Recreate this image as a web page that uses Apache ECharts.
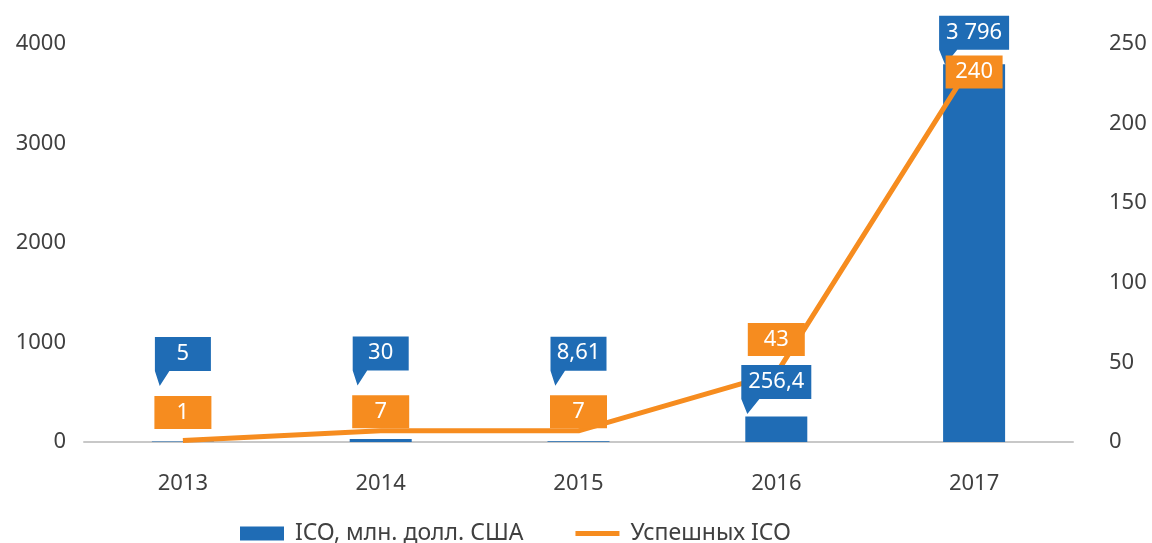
<!DOCTYPE html>
<html lang="ru">
<head>
<meta charset="UTF-8">
<title>ICO</title>
<script src="https://cdn.jsdelivr.net/npm/echarts@6/dist/echarts.min.js"></script>
<style>
    html, body { margin: 0; padding: 0; width: 100%; height: 100%; background: #fff; }
    #chart { width: 1152px; height: 543px; }
</style>
</head>
<body>
<div id="chart"></div>
<script>
    var years = ['2013', '2014', '2015', '2016', '2017'];
    var icoValues = [5, 30, 8.61, 256.4, 3796];      // млн. долл. США
    var successValues = [1, 7, 7, 43, 240];          // успешных ICO
    var leftTicks = { min: 0, max: 4000, interval: 1000 };
    var rightTicks = { min: 0, max: 250, interval: 50 };

    // how far (px) each callout sits from its point, placed by hand in the original
    var blueLift = [-80, -78, -80, -27, -24];
    var orangeLift = [-28, -19, -19, -34, 12];

    var BLUE = '#1f6cb5';
    var ORANGE = '#f68c1f';
    var FONT = 'Noto Sans';

    function fmt(v) {
        var parts = String(v).split('.');
        parts[0] = parts[0].replace(/\B(?=(\d{3})+(?!\d))/g, ' ');
        return parts.join(',');
    }

    var chart = echarts.init(document.getElementById('chart'));

    var blueCallouts = icoValues.map(function (v, i) {
        var w = 14 * Math.max(fmt(v).length, 4);
        return { value: v, symbolSize: [w, 49], symbolOffset: [0, blueLift[i]] };
    });
    var orangeCallouts = successValues.map(function (v, i) {
        return { value: v, symbolOffset: [0, orangeLift[i]] };
    });

    chart.setOption({
        animation: false,
        textStyle: { fontFamily: FONT },
        grid: { left: 84, right: 79, top: 44, bottom: 101 },
        legend: {
            left: 235,
            top: 517,
            itemGap: 52,
            itemWidth: 44,
            itemHeight: 14,
            textStyle: { fontSize: 23, color: '#404040', fontFamily: FONT, padding: [0, 0, 0, 6] },
            data: [
                { name: 'ICO, млн. долл. США', icon: 'rect' },
                { name: 'Успешных ICO', icon: 'path://M0,0H44V5H0Z' }
            ]
        },
        xAxis: {
            type: 'category',
            data: years,
            axisTick: { show: false },
            axisLine: { lineStyle: { color: '#c8c8c8', width: 2 } },
            axisLabel: { margin: 31, fontSize: 22, color: '#404040' }
        },
        yAxis: [
            {
                type: 'value',
                min: leftTicks.min, max: leftTicks.max, interval: leftTicks.interval,
                splitLine: { show: false },
                axisLabel: {
                    margin: 18, fontSize: 22, color: '#404040',
                    formatter: function (v) { return String(v); }
                }
            },
            {
                type: 'value',
                min: rightTicks.min, max: rightTicks.max, interval: rightTicks.interval,
                splitLine: { show: false },
                axisLabel: {
                    margin: 36, fontSize: 22, color: '#404040', align: 'left',
                    formatter: function (v) { return String(v); }
                }
            }
        ],
        series: [
            {
                name: 'ICO, млн. долл. США',
                type: 'bar',
                data: icoValues,
                barWidth: 62,
                itemStyle: { color: BLUE }
            },
            {
                name: 'Успешных ICO',
                type: 'line',
                yAxisIndex: 1,
                data: successValues,
                showSymbol: false,
                symbol: 'none',
                z: 3,
                itemStyle: { color: ORANGE },
                lineStyle: { color: ORANGE, width: 5 }
            },
            {
                type: 'scatter',
                data: blueCallouts,
                z: 5,
                symbol: 'path://M0,0H58V34H15L5,49L0,34Z',
                symbolKeepAspect: false,
                itemStyle: { color: BLUE, opacity: 1 },
                label: {
                    show: true, position: 'inside', offset: [0, -8],
                    color: '#fff', fontSize: 22, fontFamily: FONT,
                    formatter: function (p) { return fmt(p.value); }
                },
                emphasis: { disabled: true }
            },
            {
                type: 'scatter',
                yAxisIndex: 1,
                data: orangeCallouts,
                z: 6,
                symbol: 'rect',
                symbolSize: [57, 33],
                itemStyle: { color: ORANGE, opacity: 1 },
                label: {
                    show: true, position: 'inside',
                    color: '#fff', fontSize: 22, fontFamily: FONT,
                    formatter: function (p) { return fmt(p.value); }
                },
                emphasis: { disabled: true }
            }
        ]
    });
</script>
</body>
</html>
